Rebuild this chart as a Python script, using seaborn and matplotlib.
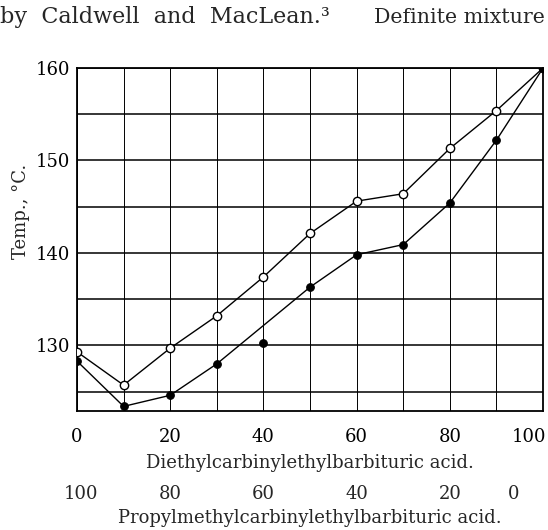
import numpy as np
import pandas as pd
import seaborn as sns
import matplotlib.pyplot as plt
from matplotlib.ticker import MultipleLocator
from matplotlib.transforms import ScaledTranslation

# percent diethylcarbinylethylbarbituric acid
pct = [0, 10, 20, 30, 40, 50, 60, 70, 80, 90, 100]
# open circles (upper curve)
temp_open = [129.3, 125.7, 129.7, 133.2, 137.4, 142.1, 145.6, 146.4, 151.3, 155.4, 160.0]
# filled circles (lower curve)
temp_filled = [128.3, 123.4, 124.6, 128.0, 130.3, 136.3, 139.8, 140.9, 145.4, 152.2, 160.0]
# the drawn lower curve does not pass through the 40 % point
filled_on_curve = [True, True, True, True, False, True, True, True, True, True, True]

x_ticks = [0, 20, 40, 60, 80, 100]
y_ticks = [130, 140, 150, 160]


def shift(text, dx_px, fig):
    text.set_transform(text.get_transform() + ScaledTranslation(dx_px / fig.dpi, 0, fig.dpi_scale_trans))


def main():
    sns.set_theme(style='white')
    plt.rcParams['font.family'] = ['DejaVu Serif']
    plt.rcParams['mathtext.fontset'] = 'dejavuserif'

    df_open = pd.DataFrame({'pct': pct, 'temp': temp_open})
    df_fill = pd.DataFrame({'pct': pct, 'temp': temp_filled, 'on': filled_on_curve})

    fig = plt.figure(figsize=(5.48, 5.30), dpi=100)
    ax = fig.add_axes([0.1405, 0.2245, 0.8505, 0.6472])

    sns.lineplot(ax=ax, data=df_open, x='pct', y='temp', color='black', linewidth=1.0)
    sns.lineplot(ax=ax, data=df_fill[df_fill.on], x='pct', y='temp', color='black', linewidth=1.0)
    sns.scatterplot(ax=ax, data=df_open, x='pct', y='temp', marker='o', s=36,
                    facecolor='white', edgecolor='black', linewidth=1.0, zorder=5)
    sns.scatterplot(ax=ax, data=df_fill, x='pct', y='temp', marker='o', s=30,
                    color='black', edgecolor='black', linewidth=0.8, zorder=5)

    ax.set_xlim(0, 100)
    ax.set_ylim(122.9, 160)
    ax.set_xticks(x_ticks)
    ax.xaxis.set_minor_locator(MultipleLocator(10))
    ax.set_yticks(y_ticks)
    ax.yaxis.set_minor_locator(MultipleLocator(5))
    ax.grid(which='both', axis='y', color='black', linewidth=1.1)
    ax.grid(which='both', axis='x', color='black', linewidth=0.7)
    ax.tick_params(axis='both', which='both', length=0, labelsize=13, colors='black')
    ax.tick_params(axis='x', pad=12)
    ax.tick_params(axis='y', pad=5)
    for s in ax.spines.values():
        s.set_visible(True)
        s.set_color('black')
        s.set_linewidth(1.3)

    ax.set_xlabel('Diethylcarbinylethylbarbituric acid.', fontsize=13, labelpad=6)
    ax.set_ylabel('Temp., °C.', fontsize=13)
    ax.yaxis.set_label_coords(-0.10, 0.583)

    sec = ax.secondary_xaxis(-0.2, functions=(lambda v: 100 - v, lambda v: 100 - v))
    sec.set_xticks(x_ticks)
    sec.tick_params(length=0, labelsize=13, pad=4)
    sec.spines['bottom'].set_visible(False)
    sec.set_xlabel('Propylmethylcarbinylethylbarbituric acid.', fontsize=13, labelpad=4)

    # end labels sit inside the frame in the original print
    shift(ax.xaxis.get_major_ticks()[-1].label1, -14, fig)
    sec_ticks = sec.xaxis.get_major_ticks()
    shift(sec_ticks[0].label1, -29, fig)
    shift(sec_ticks[-1].label1, 4, fig)

    fig.text(0.0, 0.967, 'by  Caldwell  and  MacLean.³', fontsize=16, va='center', ha='left')
    fig.text(374 / 548, 0.967, 'Definite mixture', fontsize=14.8, va='center', ha='left')

    plt.savefig('out.png', dpi=100)


if __name__ == '__main__':
    main()
